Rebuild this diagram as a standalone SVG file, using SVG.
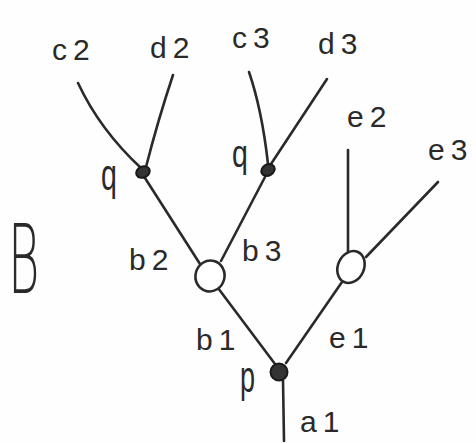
<svg xmlns="http://www.w3.org/2000/svg" width="476" height="443" viewBox="0 0 476 443">
<style>
.bg{fill:#fefefe}
.ln{fill:none;stroke:#2a2a2a;stroke-width:2.6;stroke-linecap:round;stroke-linejoin:round}
.lbl{font-family:"Liberation Sans",Arial,sans-serif;font-size:30px;fill:#2a2a2a;letter-spacing:6px}
.dot{fill:#333;stroke:#1a1a1a;stroke-width:2}
.open{fill:#fff;stroke:#2a2a2a;stroke-width:2.6}
.big{font-family:"DejaVu Sans","Liberation Sans",sans-serif;font-weight:200;font-size:96px;fill:#2a2a2a;letter-spacing:0}
</style>
<rect class="bg" width="476" height="443"/>
<g id="connectors">
  <path class="ln" d="M78,83 Q100,130 141,168"/>
  <path class="ln" d="M173,75 Q158,120 146,167"/>
  <path class="ln" d="M145,178 L200,264"/>
  <path class="ln" d="M249,72 Q262,110 268,164"/>
  <path class="ln" d="M327,79 L271,164"/>
  <path class="ln" d="M265,177 L221,261"/>
  <path class="ln" d="M348,150 L348,252"/>
  <path class="ln" d="M438,182 L366,257"/>
  <path class="ln" d="M218,288 L275,364"/>
  <path class="ln" d="M342,282 L286,363"/>
  <path class="ln" d="M283,380 L284,441"/>
</g>
<g id="node-q1"><ellipse class="dot" cx="143" cy="172" rx="7" ry="5.5" transform="rotate(-25 143 172)"/></g>
<g id="node-q2"><ellipse class="dot" cx="268" cy="170" rx="7" ry="5.5" transform="rotate(-30 268 170)"/></g>
<g id="node-b"><ellipse class="open" cx="210" cy="276" rx="14.5" ry="15.5" transform="rotate(15 210 276)"/></g>
<g id="node-e"><ellipse class="open" cx="351" cy="267" rx="13" ry="16.5" transform="rotate(25 351 267)"/></g>
<g id="node-p"><circle class="dot" cx="279" cy="372" r="8.5"/></g>
<g id="labels">
  <text class="lbl" x="52" y="60">c2</text>
  <text class="lbl" x="150" y="58">d2</text>
  <text class="lbl" x="232" y="48">c3</text>
  <text class="lbl" x="318" y="54">d3</text>
  <text class="lbl" x="347" y="127">e2</text>
  <text class="lbl" x="428" y="160">e3</text>
  <text class="lbl" transform="translate(101,190) scale(0.95,1.5)">q</text>
  <text class="lbl" transform="translate(232,167) scale(0.95,1.3)">q</text>
  <text class="lbl" x="129" y="270">b2</text>
  <text class="lbl" x="242" y="261">b3</text>
  <text class="lbl" x="196" y="350">b1</text>
  <text class="lbl" x="329" y="348">e1</text>
  <text class="lbl" transform="translate(240,392) scale(0.9,1.5)">p</text>
  <text class="lbl" x="300" y="432">a1</text>
  <text class="big" transform="translate(8,293) scale(0.5,1)">B</text>
</g>
</svg>
